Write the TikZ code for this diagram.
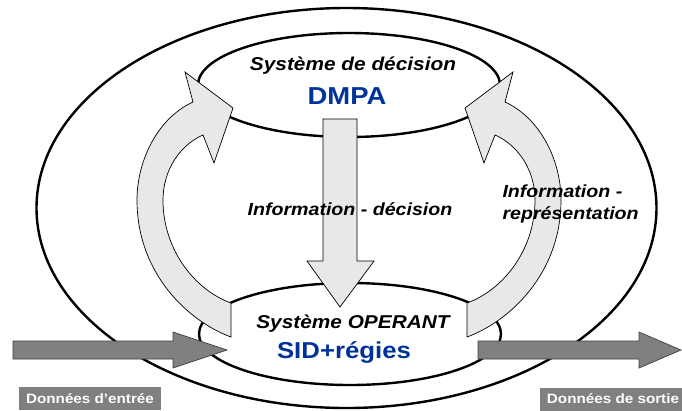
\documentclass[tikz,border=0pt]{standalone}
\usepackage{fontspec}
\setmainfont{Liberation Sans}
\newfontfamily\diagfont[FakeStretch=1.12]{Liberation Sans}
\usetikzlibrary{shapes.geometric,positioning}
\definecolor{bandgrey}{RGB}{232,232,232}
\definecolor{flowgrey}{RGB}{128,128,128}
\definecolor{royal}{RGB}{0,51,153}

\begin{document}
\begin{tikzpicture}[x=1pt,y=-1pt,
    sysring/.style={draw=black,line width=2.4pt,ellipse,inner sep=0pt,fill=white},
    band/.style={fill=bandgrey,draw=black,line width=0.7pt},
    flow/.style={fill=flowgrey,draw=black!75,line width=0.7pt},
    systitle/.style={font=\diagfont\fontsize{18.6}{22}\selectfont\bfseries\itshape},
    syscode/.style={font=\diagfont\fontsize{24.5}{28}\selectfont\bfseries,text=royal},
    infolabel/.style={font=\diagfont\fontsize{17.5}{22}\selectfont\bfseries\itshape},
    datalabel/.style={fill=flowgrey,text=white,inner sep=0pt,minimum height=23pt,
      font=\diagfont\fontsize{13.6}{16}\selectfont\bfseries}]
  \useasboundingbox (0,0) rectangle (682,410);
  % the three systems
  \node[sysring,minimum width=620pt,minimum height=400pt] (env) at (346.5,208) {};
  \node[sysring,minimum width=302pt,minimum height=104pt] (decision) at (349,85) {};
  \node[sysring,minimum width=302pt,minimum height=102pt] (operant) at (350,334) {};
  % feedback bands, the right one mirrored
  \foreach \sx/\ox in {1/0,-1/698}
    \draw[band,shift={(\ox,0)},xscale=\sx] (231,337) .. controls (190,322) and (137,275) .. (137,200)
      .. controls (137,160) and (158,118) .. (193,102) -- (185,72) -- (233,108) -- (214,163) -- (203,135)
      .. controls (180,145) and (163,170) .. (163,200) .. controls (163,250) and (195,290) .. (231,303) -- cycle;
  \draw[band] (323,119) -- (357,119) -- (357,261) -- (374,261) -- (340,307) -- (307,261) -- (323,261) -- cycle;
  % input and output
  \foreach \a/\b/\c in {13/173/227,478/639/681}
    \draw[flow] (\a,341) -- (\b,341) -- (\b,332) -- (\c,350) -- (\b,368) -- (\b,359) -- (\a,359) -- cycle;
  \node[systitle,anchor=base] (dectitle) at (353,70) {Système de décision};
  \node[syscode,anchor=base] (dmpa) at (347,104) {DMPA};
  \node[infolabel,anchor=base] (infodec) at (350,215) {Information - décision};
  \node[infolabel,align=left,anchor=base west] (inforep) at (499,219) {Information -\\représentation};
  \node[systitle,anchor=base] (optitle) at (353,328) {Système OPERANT};
  \node[syscode,font=\diagfont\fontsize{23}{26}\selectfont\bfseries,anchor=base] (sid) at (344,358) {SID+régies};
  \node[datalabel,minimum width=142pt] (inlabel) at (90,398.5) {Données d’entrée};
  \node[datalabel,minimum width=146pt] (outlabel) at (613,399) {Données de sortie};
\end{tikzpicture}
\end{document}
